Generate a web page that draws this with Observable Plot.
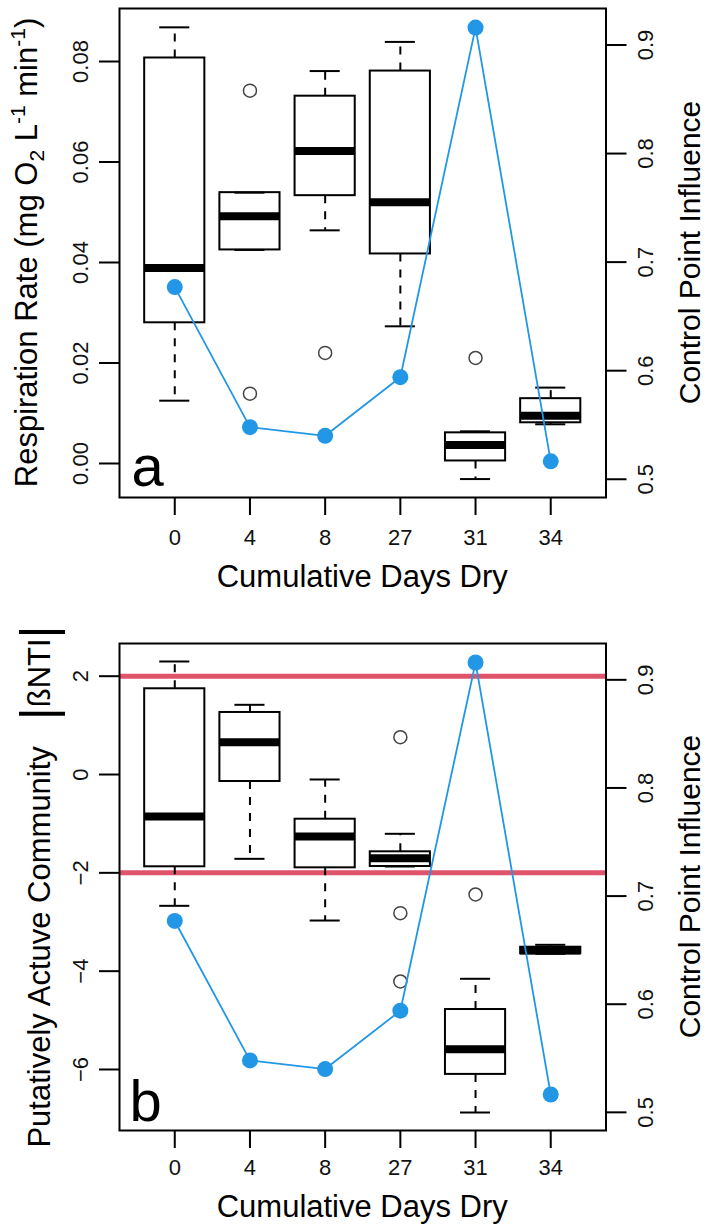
<!DOCTYPE html>
<html><head><meta charset="utf-8">
<script src="https://cdn.jsdelivr.net/npm/d3@7"></script>
<script src="https://cdn.jsdelivr.net/npm/@observablehq/plot@0.6"></script>
<style>
body{margin:0;background:#fff;}
#chart{position:relative;width:704px;height:1226px;font-family:"Liberation Sans",Arial,sans-serif;}
.panel{position:relative;width:704px;}
.panel svg{position:absolute;left:0;top:0;}
</style></head><body><div id="chart"></div>
<script>
// ---- data ----
const days = ["0", "4", "8", "27", "31", "34"];
const cpi = [0.677, 0.548, 0.540, 0.594, 0.916, 0.5165];
const cpiTicks = [0.5, 0.6, 0.7, 0.8, 0.9];

const respLo  = [0.0125, 0.0425, 0.0464, 0.0273, -0.0031, 0.0078];
const respQ1  = [0.0280, 0.0425, 0.0533, 0.0417, 0.0005, 0.0081];
const respMed = [0.0389, 0.0492, 0.0622, 0.0520, 0.0037, 0.0095];
const respQ3  = [0.0807, 0.0539, 0.0731, 0.0781, 0.0061, 0.0129];
const respHi  = [0.0868, 0.0539, 0.0781, 0.0839, 0.0064, 0.0151];
const respOutIdx = [1, 1, 2, 4];
const respOutVal = [0.0742, 0.0139, 0.0220, 0.0210];
const respTicks = [0, 0.02, 0.04, 0.06, 0.08];

const bntiLo  = [-2.671, -1.715, -2.970, -1.871, -6.875, -3.647];
const bntiQ1  = [-1.877, -0.142, -1.898, -1.871, -6.100, -3.647];
const bntiMed = [-0.854, 0.657, -1.261, -1.702, -5.590, -3.580];
const bntiQ3  = [1.744, 1.262, -0.909, -1.572, -4.780, -3.513];
const bntiHi  = [2.299, 1.418, -0.101, -1.206, -4.155, -3.464];
const bntiOutIdx = [3, 3, 3, 4];
const bntiOutVal = [0.759, -2.82, -4.21, -2.44];
const bntiTicks = [-6, -4, -2, 0, 2];
const bntiThresholds = [-2, 2];

// ---- layout ----
const W = 704, ML = 119, MR = 98.5;
const xDomain = [-0.735, 5.735];
const cpiDomain = [0.4832, 0.9336];
const FONT = '"Liberation Sans", Arial, sans-serif';
const BLUE = "#2297E6", RED = "#DF536B";

function panel(p) {
  const div = document.createElement("div");
  div.className = "panel";
  div.style.height = p.h + "px";
  const idx = d3.range(days.length);
  const B = idx.map(i => ({i, lo: p.lo[i], q1: p.q1[i], med: p.med[i], q3: p.q3[i], hi: p.hi[i]}));
  const O = p.outIdx.map((i, k) => ({i, v: p.outVal[k]}));
  const common = {
    width: W, height: p.h, marginTop: p.mt, marginBottom: p.mb, marginLeft: ML, marginRight: MR,
    x: {type: "linear", domain: xDomain, axis: null},
    style: {fontFamily: FONT, background: "transparent", overflow: "visible", color: "#111"}
  };
  const base = Plot.plot({
    ...common,
    y: {domain: p.yDomain, axis: null},
    marks: [
      p.rules ? Plot.ruleY(p.rules, {stroke: RED, strokeWidth: 5}) : null,
      Plot.ruleX(B, {x: "i", y1: "q3", y2: "hi", stroke: "black", strokeWidth: 2, strokeDasharray: "8,8"}),
      Plot.ruleX(B, {x: "i", y1: "q1", y2: "lo", stroke: "black", strokeWidth: 2, strokeDasharray: "8,8"}),
      Plot.ruleY(B, {y: "hi", x1: d => d.i - 0.2, x2: d => d.i + 0.2, stroke: "black", strokeWidth: 2}),
      Plot.ruleY(B, {y: "lo", x1: d => d.i - 0.2, x2: d => d.i + 0.2, stroke: "black", strokeWidth: 2}),
      Plot.rect(B, {x1: d => d.i - 0.4, x2: d => d.i + 0.4, y1: "q1", y2: "q3", fill: "none", stroke: "black", strokeWidth: 2}),
      Plot.ruleY(B, {y: "med", x1: d => d.i - 0.4, x2: d => d.i + 0.4, stroke: "black", strokeWidth: 8}),
      Plot.dot(O, {x: "i", y: "v", r: 6.5, stroke: "#444", strokeWidth: 1.5, fill: "none"}),
      Plot.frame({stroke: "black", strokeWidth: 2}),
      Plot.axisY(p.ticks, {anchor: "left", tickSize: 20, tickFormat: () => "", label: null, stroke: "black", strokeWidth: 2}),
      Plot.text(p.ticks, {y: d => d, frameAnchor: "left", dx: -39, rotate: -90, text: p.fmt, fontSize: 22, textAnchor: "middle", lineAnchor: "middle", fill: "#111"}),
      Plot.axisX(idx, {anchor: "bottom", tickSize: 18, tickFormat: () => "", label: null, stroke: "black", strokeWidth: 2}),
      Plot.text(idx, {x: d => d, frameAnchor: "bottom", dy: p.xdy, text: d => days[d], fontSize: 22, textAnchor: "middle", lineAnchor: "middle", fill: "#111"}),
      Plot.text([p.letter], {frameAnchor: "bottom-left", dx: p.ldx, dy: p.ldy, fontSize: 58, textAnchor: "start", lineAnchor: "bottom", fill: "black"})
    ]
  });
  const C = idx.map(i => ({i, v: cpi[i]}));
  const over = Plot.plot({
    ...common,
    y: {domain: cpiDomain, axis: null},
    marks: [
      Plot.line(C, {x: "i", y: "v", stroke: BLUE, strokeWidth: 1.8}),
      Plot.dot(C, {x: "i", y: "v", r: 8, fill: BLUE}),
      Plot.axisY(cpiTicks, {anchor: "right", tickSize: 20, tickFormat: () => "", label: null, stroke: "black", strokeWidth: 2}),
      Plot.text(cpiTicks, {y: d => d, frameAnchor: "right", dx: 40, rotate: -90, text: d => d.toFixed(1), fontSize: 22, textAnchor: "middle", lineAnchor: "middle", fill: "#111"})
    ]
  });
  div.appendChild(base);
  div.appendChild(over);

  const s = d3.select(base);
  const midY = (p.mt + (p.h - p.mb)) / 2;
  const midX = (ML + (W - MR)) / 2;
  // x title
  s.append("text").attr("x", midX).attr("y", p.xtitleY).attr("text-anchor", "middle")
    .attr("font-size", 31).attr("font-family", FONT).attr("fill", "black").text("Cumulative Days Dry");
  // right title
  d3.select(over).append("text").attr("transform", `translate(700,${midY}) rotate(-90)`)
    .attr("text-anchor", "middle").attr("font-size", 30).attr("font-family", FONT).attr("fill", "black")
    .text("Control Point Influence");
  // left title
  const t = s.append("text").attr("transform", `translate(${p.ltx},${midY}) rotate(-90)`)
    .attr("text-anchor", "middle").attr("font-size", 31).attr("font-family", FONT).attr("fill", "black");
  p.leftTitle(t);
  return div;
}

const chart = document.getElementById("chart");
chart.appendChild(panel({
  h: 634, mt: 8, mb: 137, yDomain: [-0.00677, 0.09055],
  lo: respLo, q1: respQ1, med: respMed, q3: respQ3, hi: respHi,
  outIdx: respOutIdx, outVal: respOutVal, ticks: respTicks, fmt: d => d.toFixed(2),
  rules: null, letter: "a", ldx: 12, ldy: -12, xdy: 40, xtitleY: 587, ltx: 37,
  leftTitle: t => {
    t.append("tspan").text("Respiration Rate (mg O");
    t.append("tspan").attr("font-size", 21).attr("dy", 7).text("2");
    t.append("tspan").attr("dy", -7).text(" L");
    t.append("tspan").attr("font-size", 21).attr("dy", -12).text("-1");
    t.append("tspan").attr("dy", 12).text(" min");
    t.append("tspan").attr("font-size", 21).attr("dy", -12).text("-1");
    t.append("tspan").attr("dy", 12).text(")");
  }
}));
chart.appendChild(panel({
  h: 592, mt: 9, mb: 96, yDomain: [-7.241, 2.665],
  lo: bntiLo, q1: bntiQ1, med: bntiMed, q3: bntiQ3, hi: bntiHi,
  outIdx: bntiOutIdx, outVal: bntiOutVal, ticks: bntiTicks, fmt: d => d3.format("d")(d),
  rules: bntiThresholds, letter: "b", ldx: 10, ldy: -10, xdy: 37, xtitleY: 583, ltx: 50,
  leftTitle: t => {
    t.append("tspan").text("Putatively Actuve Community\u00A0\u00A0\u00A0");
    t.append("tspan").attr("font-size", 50).attr("dy", 5).text("|");
    t.append("tspan").attr("font-size", 31).attr("dy", -5).text("ßNTI");
    t.append("tspan").attr("font-size", 50).attr("dy", 5).text("|");
  }
}));
</script></body></html>
